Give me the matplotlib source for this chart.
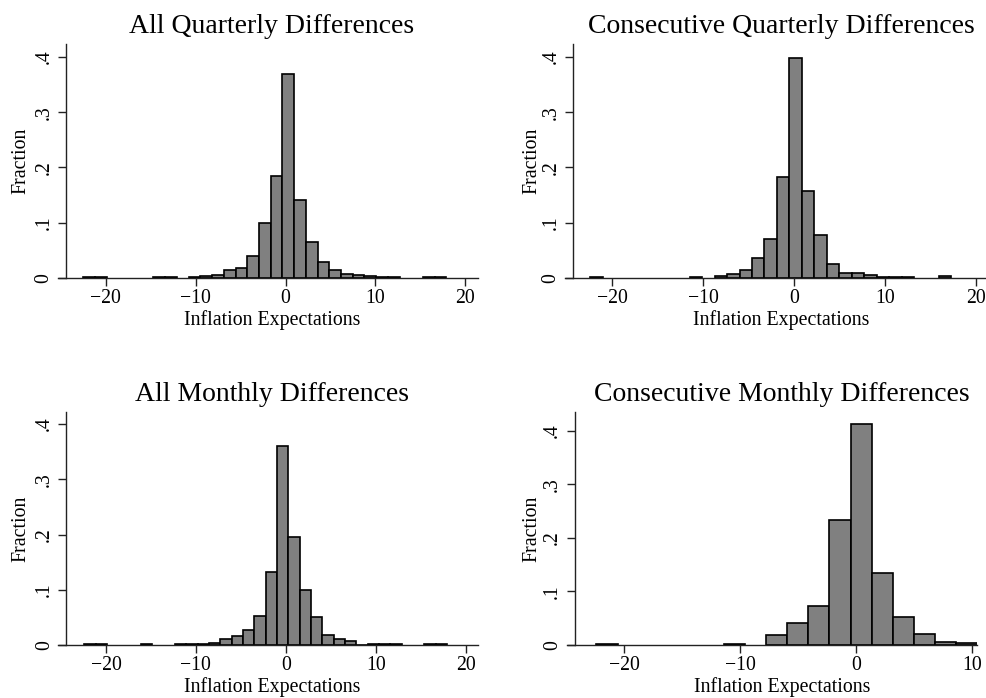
import matplotlib.pyplot as plt
import numpy as np

plt.rcParams['font.family'] = ['Liberation Serif', 'DejaVu Serif']

# histogram data: left edge of first bin, bin width, fraction per bin
aq_start, aq_width = -22.5, 1.303
aq_frac = [0.001, 0.001, 0, 0, 0, 0, 0.001, 0.001, 0, 0.0015, 0.0025, 0.004,
           0.014, 0.017, 0.039, 0.100, 0.184, 0.369, 0.141, 0.064, 0.028,
           0.0135, 0.0075, 0.004, 0.003, 0.0015, 0.0015, 0, 0, 0.001, 0.001]

cq_start, cq_width = -22.44, 1.37
cq_frac = [0.0015, 0, 0, 0, 0, 0, 0, 0, 0.0012, 0, 0.0035, 0.0067, 0.0135,
           0.0355, 0.070, 0.1828, 0.398, 0.158, 0.0765, 0.024, 0.0085,
           0.0085, 0.0043, 0.002, 0.0015, 0.001, 0, 0, 0.003]

am_start, am_width = -22.4, 1.26
am_frac = [0.001, 0.001, 0, 0, 0, 0.001, 0, 0, 0.001, 0.001, 0.0012, 0.0036,
           0.0115, 0.0169, 0.0278, 0.053, 0.1327, 0.361, 0.195, 0.0995,
           0.0513, 0.0187, 0.0115, 0.0078, 0.0008, 0.0024, 0.0024, 0.001,
           0, 0, 0.001, 0.001]

cm_start, cm_width = -22.4, 1.828
cm_frac = [0.0025, 0, 0, 0, 0, 0, 0.0025, 0, 0.018, 0.041, 0.0735, 0.234,
           0.4125, 0.135, 0.053, 0.020, 0.0056, 0.003]

titles = ["All Quarterly Differences", "Consecutive Quarterly Differences",
          "All Monthly Differences", "Consecutive Monthly Differences"]
yticks = [0, 0.1, 0.2, 0.3, 0.4]
ytick_labels = ["0", ".1", ".2", ".3", ".4"]

W, H = 987, 698
fig = plt.figure(figsize=(W / 100, H / 100), dpi=100)

# layout per panel in pixels: left, right, top, bottom(y=0), xlim, ytop,
# title/xlabel centre px, ylabel baseline px
panels = [
    dict(start=aq_start, width=aq_width, frac=aq_frac, box=(58, 478, 44, 277.7),
         xlim=(-25.3, 21.4), ytop=0.4236, xticks=[-20, -10, 0, 10, 20],
         centre=272, ylab=25.5),
    dict(start=cq_start, width=cq_width, frac=cq_frac, box=(565, 988.7, 44, 277.7),
         xlim=(-25.2, 21.4), ytop=0.4236, xticks=[-20, -10, 0, 10, 20],
         centre=781, ylab=536),
    dict(start=am_start, width=am_width, frac=am_frac, box=(58.3, 478.3, 411.7, 645),
         xlim=(-25.3, 21.4), ytop=0.4223, xticks=[-20, -10, 0, 10, 20],
         centre=272, ylab=25.5),
    dict(start=cm_start, width=cm_width, frac=cm_frac, box=(566.7, 977.3, 411.7, 645),
         xlim=(-24.97, 10.48), ytop=0.4354, xticks=[-20, -10, 0, 10],
         centre=781.7, ylab=536),
]

for p, title in zip(panels, titles):
    l, r, t, b = p['box']
    ax = fig.add_axes([l / W, (H - b) / H, (r - l) / W, (b - t) / H])
    frac = np.array(p['frac'])
    lefts = p['start'] + p['width'] * np.arange(len(frac))
    keep = frac > 0
    ax.bar(lefts[keep], frac[keep], width=p['width'], align='edge',
           color='#808080', edgecolor='black', linewidth=1.2, zorder=2)

    ax.set_xlim(*p['xlim'])
    ax.set_ylim(0, p['ytop'])
    x_per_px = (p['xlim'][1] - p['xlim'][0]) / (r - l)
    # y axis sits a little inside the left end of the x axis line
    ax.spines['left'].set_position(('data', p['xlim'][0] + 8 * x_per_px))
    ax.spines['top'].set_visible(False)
    ax.spines['right'].set_visible(False)
    for s in ('left', 'bottom'):
        ax.spines[s].set_linewidth(1.0)
        ax.spines[s].set_color('#222222')

    ax.set_xticks(p['xticks'])
    ax.set_yticks(yticks)
    ax.set_yticklabels(ytick_labels)
    ax.tick_params(direction='out', length=6, width=1, labelsize=14.2,
                   color='#222222')
    ax.tick_params(axis='x', pad=2)
    ax.tick_params(axis='y', labelrotation=90, pad=3)
    for lab in ax.get_yticklabels():
        lab.set_va('center')

    ax.set_title(title, fontsize=20, pad=7.9, x=(p['centre'] - l) / (r - l))
    ax.set_xlabel("Inflation Expectations", fontsize=14.3)
    ax.xaxis.label.set_va('baseline')
    ax.xaxis.set_label_coords((p['centre'] - l) / (r - l), -47 / (b - t))
    ax.set_ylabel("Fraction", fontsize=14.3)
    ax.yaxis.label.set_va('baseline')
    ax.yaxis.set_label_coords((p['ylab'] - l) / (r - l), 0.5)

fig.savefig("out.png", dpi=100)
plt.close()
